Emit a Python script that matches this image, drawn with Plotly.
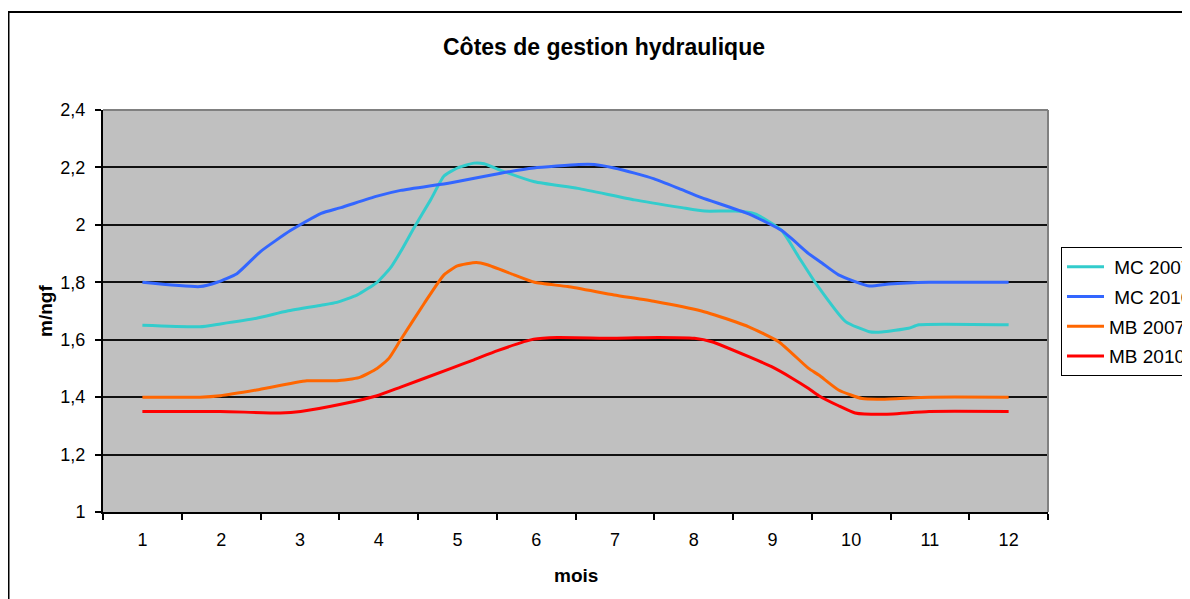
import plotly.graph_objects as go

# ---- data (month position, level m/ngf) ----
months = list(range(1, 13))
month_labels = [str(m) for m in months]

mc2007_x = [1.0, 1.73, 1.99, 2.45, 2.84, 3.27, 3.47, 3.73, 3.98, 4.15, 4.28, 4.45, 4.66, 4.83, 5.00,
            5.21, 5.34, 5.55, 5.98, 6.53, 7.25, 7.85, 8.14, 8.53, 8.78, 9.12, 9.33, 9.55, 9.93,
            10.23, 10.39, 10.73, 10.86, 12.0]
mc2007_y = [1.65, 1.645, 1.655, 1.675, 1.70, 1.72, 1.73, 1.756, 1.80, 1.85, 1.907, 1.99, 2.087, 2.17, 2.198,
            2.215, 2.213, 2.19, 2.15, 2.127, 2.087, 2.06, 2.048, 2.048, 2.038, 1.98, 1.89, 1.797, 1.663,
            1.628, 1.627, 1.64, 1.652, 1.652]

mc2010_x = [1.0, 1.73, 1.95, 2.20, 2.50, 2.88, 3.27, 3.52, 3.98, 4.28, 4.92, 5.55, 5.97, 6.54, 6.74,
            6.99, 7.25, 7.50, 7.81, 8.10, 8.70, 9.12, 9.46, 9.63, 9.84, 10.23, 10.48, 10.99, 12.0]
mc2010_y = [1.80, 1.785, 1.80, 1.83, 1.907, 1.98, 2.04, 2.06, 2.10, 2.12, 2.147, 2.18, 2.198, 2.21, 2.21,
            2.198, 2.18, 2.16, 2.127, 2.095, 2.038, 1.98, 1.90, 1.867, 1.826, 1.787, 1.794, 1.80, 1.80]

mb2007_x = [1.0, 1.73, 1.99, 2.45, 3.09, 3.47, 3.75, 3.98, 4.13, 4.28, 4.58, 4.83, 5.00, 5.24, 5.38,
            5.72, 5.98, 6.40, 6.99, 7.51, 8.10, 8.27, 8.70, 9.08, 9.46, 9.59, 9.84, 10.14, 10.39,
            10.99, 12.0]
mb2007_y = [1.40, 1.40, 1.405, 1.425, 1.457, 1.457, 1.468, 1.50, 1.535, 1.60, 1.727, 1.826, 1.857, 1.869, 1.861,
            1.826, 1.80, 1.785, 1.756, 1.733, 1.70, 1.686, 1.645, 1.593, 1.50, 1.477, 1.425, 1.395, 1.393,
            1.40, 1.40]

mb2010_x = [1.0, 1.99, 2.75, 3.01, 3.52, 3.98, 4.28, 4.92, 5.21, 5.51, 5.97, 6.27, 6.99, 7.55, 8.01,
            8.23, 8.70, 8.99, 9.25, 9.46, 9.59, 9.84, 10.05, 10.39, 10.99, 12.0]
mb2010_y = [1.35, 1.35, 1.345, 1.35, 1.375, 1.405, 1.435, 1.50, 1.53, 1.562, 1.602, 1.608, 1.605, 1.608, 1.605,
            1.593, 1.541, 1.506, 1.466, 1.43, 1.405, 1.37, 1.345, 1.34, 1.35, 1.35]

series = [
    ("\u00a0MC 2007", mc2007_x, mc2007_y, "#33CCCC"),
    ("\u00a0MC 2010", mc2010_x, mc2010_y, "#3366FF"),
    ("MB 2007", mb2007_x, mb2007_y, "#FF6600"),
    ("MB 2010", mb2010_x, mb2010_y, "#FF0000"),
]

y_ticks = [1, 1.2, 1.4, 1.6, 1.8, 2, 2.2, 2.4]

fig = go.Figure()
for i, (name, xs, ys, col) in enumerate(series):
    fig.add_trace(go.Scatter(
        x=xs, y=ys, name=name, mode="lines", legendgroup=f"g{i}",
        line=dict(color=col, width=3, shape="spline", smoothing=0.5),
    ))

FONT = "Liberation Sans, Arial, sans-serif"
W, H = 1182, 591  # page has an 8px body margin

fig.update_layout(
    width=W, height=H,
    margin=dict(l=95, r=142, t=102, b=87, autoexpand=False),
    paper_bgcolor="white",
    plot_bgcolor="#C0C0C0",
    separators=", ",
    font=dict(family=FONT, color="black", size=18),
    title=dict(text="<b>Côtes de gestion hydraulique</b>", x=596 / W, xanchor="center",
               y=1 - 39 / H, yanchor="middle", font=dict(size=23, family=FONT, color="black")),
    showlegend=True,
    legend=dict(x=(1053 - 95) / 945, xanchor="left", y=(504 - 239) / 402, yanchor="top",
                bgcolor="white", bordercolor="black", borderwidth=1,
                font=dict(size=19, family=FONT, color="black"),
                itemwidth=37, tracegroupgap=2, traceorder="grouped"),
    xaxis=dict(range=[0.5, 12.5], tickmode="array", tickvals=months, ticktext=month_labels,
               ticks="", showgrid=False, zeroline=False,
               showline=True, linecolor="black", linewidth=2,
               minor=dict(tickmode="linear", tick0=0.5, dtick=1, ticks="outside", ticklen=6,
                          tickcolor="black", tickwidth=1.5, showgrid=False),
               tickfont=dict(size=18, family=FONT, color="black"), ticklabelstandoff=10),
    yaxis=dict(range=[1, 2.4], tickmode="array", tickvals=y_ticks,
               ticks="outside", ticklen=6, tickcolor="black", tickwidth=1.5,
               showgrid=True, gridcolor="#111111", gridwidth=1.6, zeroline=False,
               showline=True, linecolor="black", linewidth=2,
               tickfont=dict(size=18, family=FONT, color="black"), ticklabelstandoff=6),
    annotations=[
        dict(text="<b>mois</b>", xref="paper", yref="paper", x=0.5, y=(504 - 567) / 402,
             xanchor="center", yanchor="middle", showarrow=False,
             font=dict(size=19, family=FONT, color="black")),
        dict(text="<b>m/ngf</b>", xref="paper", yref="paper", x=(37 - 95) / 945, y=0.5,
             xanchor="center", yanchor="middle", showarrow=False, textangle=-90,
             font=dict(size=19, family=FONT, color="black")),
    ],
    shapes=[
        dict(type="rect", xref="paper", yref="paper", x0=(0.5 - 95) / 945, x1=1.25,
             y0=-0.3, y1=(504 - 4) / 402, line=dict(color="black", width=2), fillcolor="rgba(0,0,0,0)"),
        dict(type="line", xref="paper", yref="paper", x0=0, x1=1, y0=1, y1=1,
             line=dict(color="#808080", width=2)),
        dict(type="line", xref="paper", yref="paper", x0=1, x1=1, y0=0, y1=1,
             line=dict(color="#808080", width=2)),
    ],
)

fig.write_html("out.html")
